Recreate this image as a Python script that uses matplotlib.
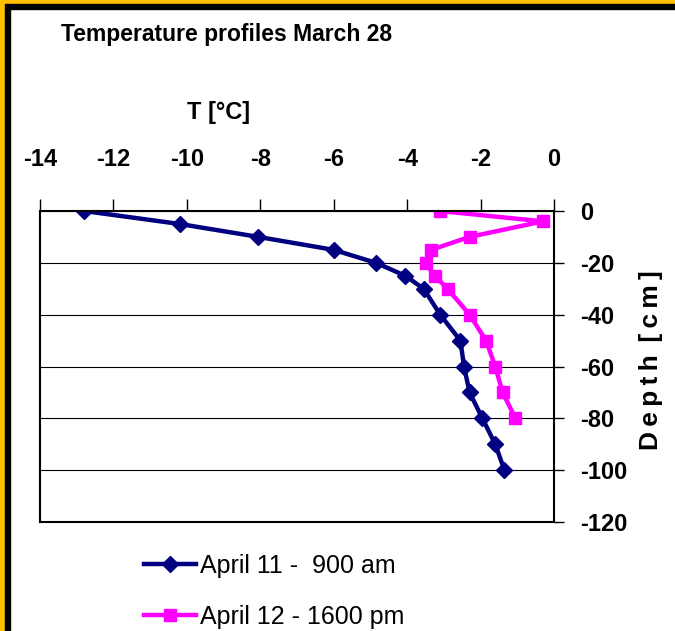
import matplotlib.pyplot as plt
from matplotlib.patches import Rectangle

# April 11 - 900 am
t_apr11 = [-12.8, -10.2, -8.05, -6.0, -4.85, -4.05, -3.55, -3.1, -2.55, -2.45, -2.3, -1.95, -1.6, -1.35]
d_apr11 = [0, -5, -10, -15, -20, -25, -30, -40, -50, -60, -70, -80, -90, -100]

# April 12 - 1600 pm
t_apr12 = [-3.1, -0.3, -2.3, -3.35, -3.5, -3.25, -2.9, -2.3, -1.85, -1.6, -1.4, -1.05]
d_apr12 = [0, -4, -10, -15, -20, -25, -30, -40, -50, -60, -70, -80]

x_ticks = [-14, -12, -10, -8, -6, -4, -2, 0]
y_ticks = [0, -20, -40, -60, -80, -100, -120]

plt.rcParams['font.family'] = ['Liberation Sans', 'DejaVu Sans']
plt.rcParams['axes.unicode_minus'] = False

W, H = 675, 631
fig = plt.figure(figsize=(W / 100, H / 100), dpi=100)
fig.patch.set_facecolor('white')

# gold / black frame on left and top
fig.patches.append(Rectangle((0, 0), 5 / W, 1, transform=fig.transFigure, color='#FFC000', zorder=0))
fig.patches.append(Rectangle((5 / W, 0), 5 / W, 1 - 9 / H, transform=fig.transFigure, color='black', zorder=0))
fig.patches.append(Rectangle((0, 1 - 4 / H), 1, 4 / H, transform=fig.transFigure, color='#FFC000', zorder=0))
fig.patches.append(Rectangle((5 / W, 1 - 9 / H), 1, 5 / H, transform=fig.transFigure, color='black', zorder=0))

ax = fig.add_axes([40 / W, 109 / H, 514 / W, 311 / H])

ax.plot(t_apr11, d_apr11, color='#000080', lw=3.2, marker='D', ms=8.5, label='April 11 -  900 am')
ax.plot(t_apr12, d_apr12, color='#FF00FF', lw=3.2, marker='s', ms=9, label='April 12 - 1600 pm')

ax.set_xlim(-14, 0)
ax.set_ylim(-120, 0)
ax.set_xticks(x_ticks)
ax.set_yticks(y_ticks)
ax.xaxis.tick_top()
ax.yaxis.tick_right()
ax.tick_params(axis='x', direction='out', length=9, width=1, pad=20, labelsize=17)
ax.tick_params(axis='y', direction='out', length=7, width=1, pad=12, labelsize=17)
for lab in ax.get_xticklabels() + ax.get_yticklabels():
    lab.set_fontweight('bold')
for lab in ax.get_yticklabels():
    lab.set_horizontalalignment('left')

ax.yaxis.grid(True, color='black', lw=0.8)
for s in ax.spines.values():
    s.set_linewidth(1.5)

fig.text(61 / W, 1 - 34 / H, 'Temperature profiles March 28', fontsize=16.5, fontweight='bold',
         ha='left', va='center')
fig.text(219 / W, 1 - 112 / H, 'T [°C]', fontsize=17, fontweight='bold', ha='center', va='center')
fig.text(651 / W, 1 - 360 / H, 'D\u2009e\u2009p\u2009t\u2009h\u2009 [\u2009c\u2009m\u2009]', fontsize=19,
         fontweight='bold', rotation=90, ha='center', va='center')

fig.legend(loc='upper left', bbox_to_anchor=(121 / W, 1 - 531 / H), frameon=False, fontsize=18,
           handlelength=2.1, labelspacing=1.1, handletextpad=0.15)

fig.savefig('out.png', dpi=100)
